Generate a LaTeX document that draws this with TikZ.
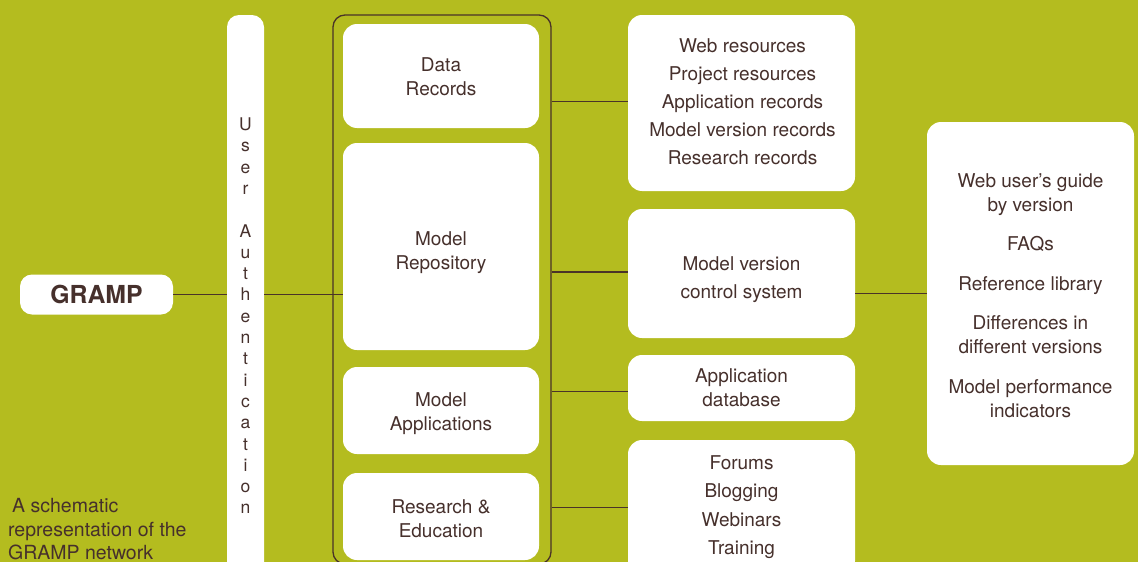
\documentclass[tikz,border=0pt]{standalone}
\usepackage{fontspec}
\setmainfont{TeX Gyre Heros}
\definecolor{bg}{HTML}{B4BC1F}
\definecolor{txt}{HTML}{46302C}
\definecolor{ln}{HTML}{4A3328}
\begin{document}
\begin{tikzpicture}[x=1pt,y=-1pt,
  box/.style={draw=none, fill=white, rounded corners=14pt, inner sep=0pt},
  lbl/.style={text=txt, font=\fontsize{19}{24}\selectfont, align=center, inner sep=0pt},
  lblw/.style={text=txt, font=\fontsize{19}{28}\selectfont, align=center, inner sep=0pt},
  vl/.style={text=txt, font=\fontsize{17.5}{21}\selectfont, inner sep=0pt},
  conn/.style={draw=ln, line width=1.3pt},
  frame/.style={draw=ln, line width=1.3pt, rounded corners=12pt, fill=none, inner sep=0pt}
]
\useasboundingbox (0,0) rectangle (1138,562);
\clip (0,0) rectangle (1138,562);
\fill[bg] (0,0) rectangle (1138,562);

% left part
\node[box, rounded corners=12pt, minimum width=153pt, minimum height=40pt,
      text=txt, font=\bfseries\fontsize{24.8}{25}\selectfont] (gramp) at (96.5,294.5) {GRAMP};
\node[box, rounded corners=12pt, minimum width=37pt, minimum height=585pt] (auth) at (245.5,307.5) {};
\foreach \ch/\k in {U/0,s/1,e/2,r/3,A/5,u/6,t/7,h/8,e/9,n/10,t/11,i/12,c/13,a/14,t/15,i/16,o/17,n/18}
  \node[vl, anchor=base] (ua\k) at (245.5,{130.5+21.3*\k}) {\ch};

% outline of middle column
\node[frame, minimum width=218pt, minimum height=549pt] (outline) at (442,289.5) {};

% middle boxes
\node[box, minimum width=196pt, minimum height=104pt] (datarec) at (441,76) {};
\node[lbl] (datarecT) at (441,77.2) {Data\\Records};
\node[box, minimum width=196pt, minimum height=207pt] (repo) at (441,246.5) {};
\node[lbl] (repoT) at (441,253) {Model\\Repository};
\node[box, minimum width=196pt, minimum height=87pt] (apps) at (441,410.5) {};
\node[lbl] (appsT) at (441,414) {Model\\Applications};
\node[box, minimum width=196pt, minimum height=87pt] (research) at (441,516.5) {};
\node[lbl] (researchT) at (441,519.2) {Research \&\\Education};

% right boxes
\node[box, minimum width=227pt, minimum height=176pt] (webres) at (741.5,103) {};
\node[lblw] (webresT) at (742.5,102.2) {Web resources\\Project resources\\Application records\\Model version records\\Research records};
\node[box, minimum width=227pt, minimum height=129pt] (mvcs) at (741.5,273.5) {};
\node[lblw] (mvcsT) at (741.5,279.7) {Model version\\control system};
\node[box, minimum width=227pt, minimum height=66pt] (appdb) at (741.5,388) {};
\node[lbl] (appdbT) at (741.5,388) {Application\\database};
\node[box, minimum width=227pt, minimum height=135pt] (forums) at (741.5,507.5) {};
\node[text=txt, font=\fontsize{19}{28.3}\selectfont, align=center, inner sep=0pt] (forumsT) at (741.5,507.2) {Forums\\Blogging\\Webinars\\Training};

% far right box
\node[box, minimum width=207pt, minimum height=343pt] (farright) at (1030.5,293.5) {};
\node[lbl] (farrightT) at (1030.5,295.5) {Web user’s guide\\by version\\[15.5pt]FAQs\\[15.5pt]Reference library\\[15.5pt]Differences in\\different versions\\[15.5pt]Model performance\\indicators};

% caption
\node[text=txt, font=\fontsize{19.5}{23.5}\selectfont, align=left, inner sep=0pt, anchor=north west] (caption) at (8,498.5)
  {\hspace*{4pt}A schematic\\representation of the\\GRAMP network};

% connectors
\draw[conn] (gramp.east) -- (gramp.east -| auth.west);
\draw[conn] (gramp.east -| auth.east) -- (gramp.east -| repo.west);
\draw[conn] ([yshift=1.5pt]webres.west -| outline.east) -- ([yshift=1.5pt]webres.west);
\draw[conn] ([yshift=1.5pt]mvcs.west -| outline.east) -- ([yshift=1.5pt]mvcs.west);
\draw[conn] ([yshift=-3.5pt]appdb.west -| outline.east) -- ([yshift=-3.5pt]appdb.west);
\draw[conn] (forums.west -| outline.east) -- (forums.west);
\draw[conn] (farright.west -| mvcs.east) -- (farright.west);
\end{tikzpicture}
\end{document}
